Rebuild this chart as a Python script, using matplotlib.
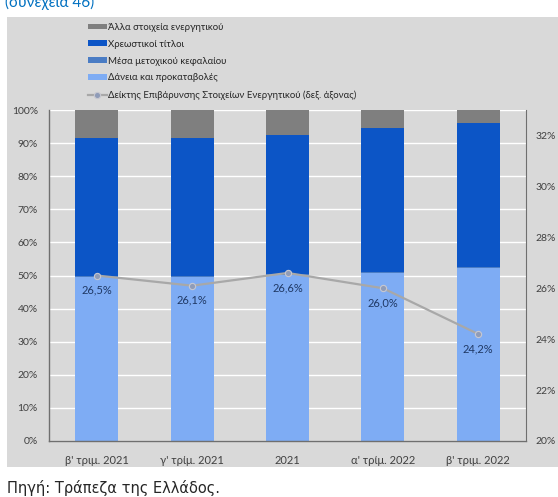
import numpy as np
import matplotlib.pyplot as plt
from matplotlib.patches import Rectangle

categories = ["β' τριμ. 2021", "γ' τρίμ. 2021", "2021", "α' τρίμ. 2022", "β' τριμ. 2022"]
loans = [49.6, 49.5, 50.1, 50.9, 52.2]
equity = [0.3, 0.3, 0.3, 0.3, 0.3]
debt = [41.7, 41.8, 42.0, 43.3, 43.7]
other = [8.4, 8.4, 7.6, 5.5, 3.8]
encumbrance = [26.5, 26.1, 26.6, 26.0, 24.2]

series = [
    ("Δάνεια και προκαταβολές", loans, "#7eacf4"),
    ("Μέσα μετοχικού κεφαλαίου", equity, "#4a7cc4"),
    ("Χρεωστικοί τίτλοι", debt, "#0c55c6"),
    ("Άλλα στοιχεία ενεργητικού", other, "#7f7f7f"),
]

plt.rcParams['font.family'] = ['Lato', 'DejaVu Sans']

fig = plt.figure(figsize=(5.58, 4.97), dpi=100, facecolor='white')

# grey backdrop behind the chart
fig.patches.append(Rectangle((7 / 558, 1 - 467 / 497), 1, (467 - 17) / 497,
                             transform=fig.transFigure, facecolor='#d9d9d9',
                             edgecolor='none', zorder=-5))

ax = fig.add_axes([49 / 558, 1 - 441 / 497, (526 - 49) / 558, (441 - 110) / 497])
ax.patch.set_alpha(0)

x = np.arange(len(categories))
bottom = np.zeros(len(categories))
handles = {}
for name, vals, col in series:
    b = ax.bar(x, vals, bottom=bottom, width=0.45, color=col, zorder=2, label=name)
    handles[name] = b
    bottom += np.array(vals)

ax.set_ylim(0, 100)
ax.set_xlim(-0.5, len(categories) - 0.5)
ax.set_yticks(np.arange(0, 101, 10))
ax.set_yticklabels([f"{v}%" for v in range(0, 101, 10)], fontsize=7.5, color='#404040')
ax.set_xticks(x)
ax.set_xticklabels(categories, fontsize=8, color='#404040')
ax.tick_params(axis='y', length=0, pad=8)
ax.tick_params(axis='x', length=0, pad=10)
ax.yaxis.grid(True, color='white', linewidth=1.0, zorder=1)
ax.set_axisbelow(True)
for s in ['top', 'right']:
    ax.spines[s].set_visible(False)
for s in ['left', 'bottom']:
    ax.spines[s].set_color('#6f6f6f')
    ax.spines[s].set_linewidth(1.0)

ax2 = ax.twinx()
line, = ax2.plot(x, encumbrance, color='#a8a8a8', linewidth=1.6, marker='o',
                 markersize=4.5, markerfacecolor='#8f9cb8', markeredgecolor='#c8c8d0',
                 markeredgewidth=0.8, zorder=3,
                 label="Δείκτης Επιβάρυνσης Στοιχείων Ενεργητικού (δεξ. άξονας)")
for xi, v in zip(x, encumbrance):
    ax2.annotate(f"{v:.1f}%".replace('.', ','), (xi, v), xytext=(0, -6.5),
                 textcoords='offset points', ha='center', va='top',
                 fontsize=8, color='#1f3864')
ax2.set_ylim(20, 33)
ax2.set_yticks(np.arange(20, 33, 2))
ax2.set_yticklabels([f"{v}%" for v in range(20, 33, 2)], fontsize=7.5, color='#404040')
ax2.tick_params(axis='y', length=0, pad=7)
for s in ['top', 'left', 'bottom']:
    ax2.spines[s].set_visible(False)
ax2.spines['right'].set_color('#6f6f6f')

order = ["Άλλα στοιχεία ενεργητικού", "Χρεωστικοί τίτλοι",
         "Μέσα μετοχικού κεφαλαίου", "Δάνεια και προκαταβολές"]
leg = fig.legend([handles[n] for n in order] + [line], order + [line.get_label()],
                 loc='upper left', bbox_to_anchor=(84 / 558, 1 - 19 / 497),
                 frameon=False, fontsize=6.9, handlelength=2.0, handleheight=0.55,
                 handletextpad=0.1, labelspacing=0.82, borderaxespad=0)
for t in leg.get_texts():
    t.set_color('#262626')

fig.text(5 / 558, 1 - 6.5 / 497, "(συνέχεια 46)", fontsize=11, color='#0070c0',
         va='baseline', ha='left')
fig.text(7 / 558, 1 - 493 / 497, "Πηγή: Τράπεζα της Ελλάδος.", fontsize=10.5,
         color='#262626', va='baseline', ha='left', family='DejaVu Sans')

fig.savefig('out.png', dpi=100, facecolor='white')
